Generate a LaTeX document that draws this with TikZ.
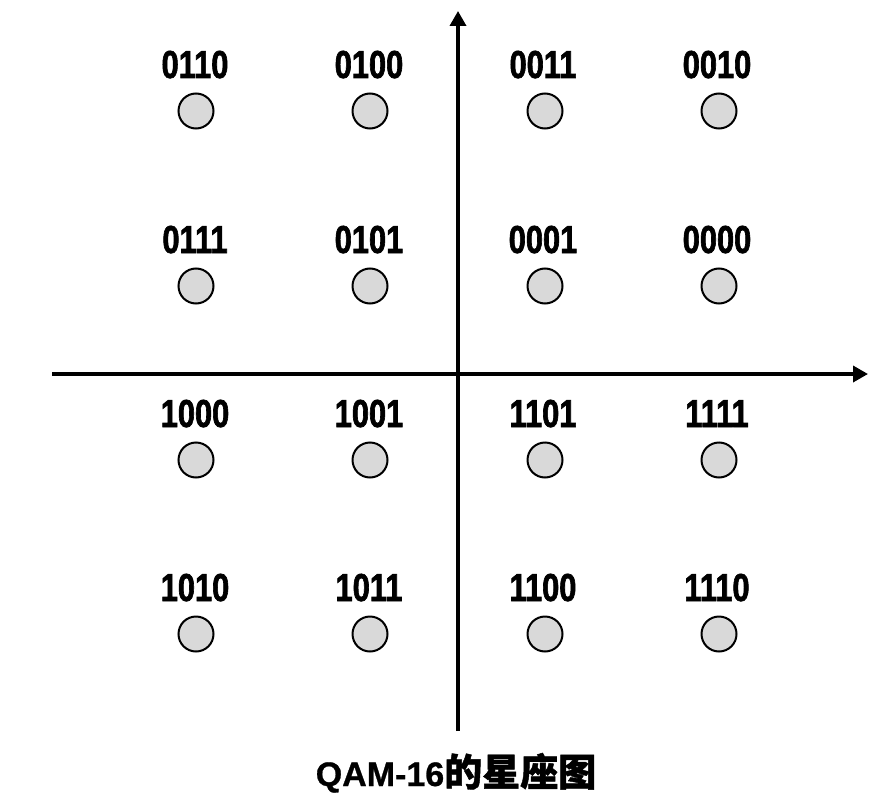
\documentclass[tikz,border=0pt]{standalone}
\usepackage{fontspec}
\setmainfont{Liberation Sans}[BoldFeatures={FakeBold=0.8}]
\newfontfamily\narrowfont{Liberation Sans}[FakeStretch=0.79,BoldFeatures={FakeBold=1.6}]
\newfontfamily\cjk{Noto Sans CJK SC}[BoldFeatures={FakeBold=1.2}]
\usetikzlibrary{arrows.meta}

\begin{document}
\begin{tikzpicture}[
  x=1pt, y=-1pt,
  axis/.style={
    draw,
    black,
    line width=3.5pt,
    -{Triangle[width=16pt,length=15pt]}
  },
  symbol/.style={
    circle,
    draw,
    fill=gray!30,
    line width=2pt,
    minimum size=35pt,
    inner sep=0pt
  },
  bits/.style={
    anchor=base,
    inner sep=0pt,
    font=\narrowfont\bfseries\fontsize{39}{42}\selectfont
  },
]
\useasboundingbox (0,0) rectangle (890,810);
% axes
\coordinate (xl) at (52,374);
\coordinate (xr) at (868,374);
\coordinate (yb) at (458,731);
\coordinate (yt) at (458,11);
\draw[axis] (xl) -- (xr);
\draw[axis] (yb) -- (yt);
% constellation points
\foreach \row/\y/\la/\lb/\lc/\ld in {
  1/111/0110/0100/0011/0010,
  2/286/0111/0101/0001/0000,
  3/460/1000/1001/1101/1111,
  4/634/1010/1011/1100/1110}{
  \node[symbol] (p\row a) at (196,\y) {};
  \node[symbol] (p\row b) at (370,\y) {};
  \node[symbol] (p\row c) at (545,\y) {};
  \node[symbol] (p\row d) at (719,\y) {};
  \node[bits] (l\row a) at (195,\y-33) {\la};
  \node[bits] (l\row b) at (369,\y-33) {\lb};
  \node[bits] (l\row c) at (543,\y-33) {\lc};
  \node[bits] (l\row d) at (717,\y-33) {\ld};
}
\node[anchor=base, inner sep=0pt, font=\bfseries\fontsize{34}{38}\selectfont]
  (title) at (456,786) {QAM-16{\cjk\bfseries\fontsize{38}{40}\selectfont 的星座图}};
\end{tikzpicture}
\end{document}
